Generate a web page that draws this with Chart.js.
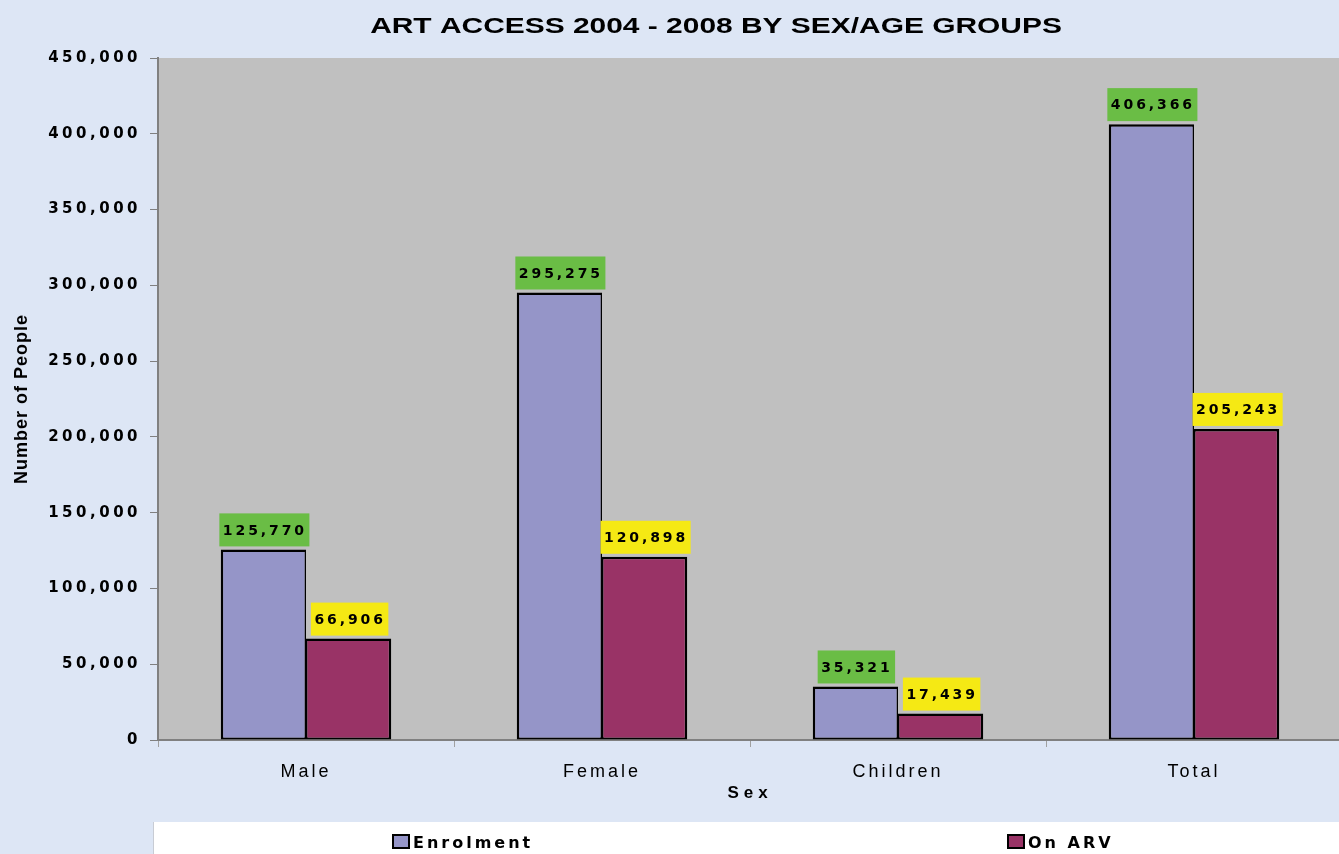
<!DOCTYPE html>
<html><head><meta charset="utf-8">
<script src="https://cdn.jsdelivr.net/npm/chart.js@4.4.1/dist/chart.umd.min.js"></script>
<style>html,body{margin:0;padding:0;background:#DDE6F5;overflow:hidden;} canvas{display:block;}</style>
</head><body>
<canvas id="c" width="1342" height="854"></canvas>
<script>
const categories = ['Male', 'Female', 'Children', 'Total'];
const enrolment = [125770, 295275, 35321, 406366];
const onArv = [66906, 120898, 17439, 205243];
const seriesLabels = ['Enrolment', 'On ARV'];
const yTicks = [0, 50000, 100000, 150000, 200000, 250000, 300000, 350000, 400000, 450000];
const chartTitle = 'ART ACCESS 2004 - 2008 BY SEX/AGE GROUPS';
const xTitle = 'Sex';
const yTitle = 'Number of People';

const fmt = v => Number(v).toLocaleString('en-US');

const bgPlugin = {
  id: 'bg',
  beforeDraw(chart) {
    const { ctx, chartArea: a } = chart;
    ctx.save();
    ctx.fillStyle = '#DDE6F5';
    ctx.fillRect(0, 0, chart.width, chart.height);
    ctx.fillStyle = '#C0C0C0';
    ctx.fillRect(a.left, a.top, a.right - a.left, a.bottom - a.top);
    ctx.fillStyle = '#FFFFFF';
    ctx.fillRect(153, 822, chart.width - 153, chart.height - 822);
    ctx.strokeStyle = '#C8CCD4';
    ctx.lineWidth = 1;
    ctx.beginPath(); ctx.moveTo(153.5, 822); ctx.lineTo(153.5, chart.height); ctx.stroke();
    ctx.restore();
  }
};

const spacingPlugin = {
  id: 'spacing',
  afterLayout(chart) {
    const cfg = { x: ['3px', '5px'], y: ['3.5px', '1px'] };
    Object.keys(cfg).forEach(id => {
      const s = chart.scales[id];
      if (!s || s.__patched) return;
      s.__patched = true;
      const wrap = (name, sp) => {
        const orig = s[name];
        s[name] = function (...args) {
          const c = this.ctx; c.save(); c.letterSpacing = sp; orig.apply(this, args); c.restore();
        };
      };
      wrap('drawLabels', cfg[id][0]);
      wrap('drawTitle', cfg[id][1]);
    });
  }
};

const labelPlugin = {
  id: 'valueLabels',
  afterDatasetsDraw(chart) {
    const ctx = chart.ctx;
    const boxColors = ['#6ABD45', '#F5E914'];
    ctx.save();
    ctx.font = 'bold 14px "DejaVu Sans"';
    ctx.letterSpacing = '2.9px';
    ctx.textAlign = 'left';
    ctx.textBaseline = 'middle';
    chart.data.datasets.forEach((ds, di) => {
      const meta = chart.getDatasetMeta(di);
      meta.data.forEach((bar, i) => {
        const txt = fmt(ds.data[i]);
        const w = ctx.measureText(txt).width;
        const bw = w + 6, bh = 33;
        const x0 = bar.x - bw / 2 + 1;
        const yb = bar.y - 3;
        ctx.fillStyle = boxColors[di];
        ctx.fillRect(x0, yb - bh, bw, bh);
        ctx.fillStyle = '#000';
        ctx.fillText(txt, x0 + 3.5, yb - bh / 2 + 1);
      });
    });
    ctx.restore();
  }
};

const decoPlugin = {
  id: 'deco',
  afterDraw(chart) {
    const ctx = chart.ctx;
    // title
    ctx.save();
    ctx.font = 'bold 22px "Liberation Sans"';
    ctx.fillStyle = '#000';
    ctx.textAlign = 'center';
    ctx.textBaseline = 'alphabetic';
    ctx.translate(716, 33);
    ctx.scale(1.36, 1);
    ctx.fillText(chartTitle, 0, 0);
    ctx.restore();
    // legend
    const lx = [393, 1008];
    ctx.save();
    ctx.font = 'bold 16px "DejaVu Sans"';
    ctx.letterSpacing = '3px';
    ctx.textAlign = 'left';
    ctx.textBaseline = 'alphabetic';
    chart.data.datasets.forEach((ds, i) => {
      ctx.fillStyle = ds.backgroundColor;
      ctx.fillRect(lx[i], 835, 16, 13);
      ctx.strokeStyle = '#000';
      ctx.lineWidth = 2;
      ctx.strokeRect(lx[i], 835, 16, 13);
      ctx.fillStyle = '#000';
      ctx.fillText(ds.label, lx[i] + 20, 848);
    });
    ctx.restore();
  }
};

new Chart(document.getElementById('c'), {
  type: 'bar',
  data: {
    labels: categories,
    datasets: [
      { label: seriesLabels[0], data: enrolment, backgroundColor: '#9595C8', borderColor: '#000',
        borderWidth: { top: 2.5, left: 2.5, bottom: 2, right: 1.5 }, borderSkipped: false },
      { label: seriesLabels[1], data: onArv, backgroundColor: '#993366', borderColor: '#000',
        borderWidth: { top: 2.5, left: 1.5, bottom: 2, right: 2.5 }, borderSkipped: false }
    ]
  },
  options: {
    responsive: false,
    animation: false,
    events: [],
    layout: { padding: { top: 58, right: 0, bottom: 32, left: 0 } },
    datasets: { bar: { categoryPercentage: 0.576, barPercentage: 1.0 } },
    plugins: { legend: { display: false }, title: { display: false }, tooltip: { enabled: false } },
    scales: {
      x: {
        afterFit: s => { s.height = 82; },
        ticks: { font: { family: 'Liberation Sans', size: 18 }, color: '#000', padding: 14 },
        grid: { drawOnChartArea: false, drawTicks: true, tickLength: 7, color: '#A0A0A0', offset: true },
        border: { display: true, color: '#808080', width: 2 },
        title: { display: true, text: xTitle, color: '#000',
          font: { family: 'Liberation Sans', size: 17, weight: 'bold' }, padding: { top: 0, bottom: 18 } }
      },
      y: {
        min: 0, max: 450000,
        afterBuildTicks: s => { s.ticks = yTicks.map(v => ({ value: v })); },
        afterFit: s => { s.width = 158; },
        ticks: { font: { family: 'DejaVu Sans', size: 15, weight: 'bold' }, color: '#000', padding: 9,
          callback: v => fmt(v) },
        grid: { drawOnChartArea: false, drawTicks: true, tickLength: 8, color: '#808080', lineWidth: 1 },
        border: { display: true, color: '#808080', width: 2 },
        title: { display: true, text: yTitle, color: '#000',
          font: { family: 'Liberation Sans', size: 18, weight: 'bold' }, padding: { top: 11, bottom: 0 } }
      }
    }
  },
  plugins: [bgPlugin, spacingPlugin, labelPlugin, decoPlugin]
});
</script>
</body></html>
